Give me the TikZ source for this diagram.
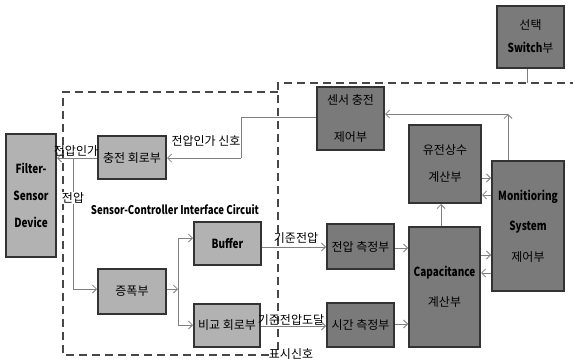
\documentclass[tikz,border=0pt]{standalone}
\usepackage{fontspec}
\setmainfont{Noto Sans CJK KR}
\newfontfamily\eng[FakeStretch=0.8]{Noto Sans CJK KR}
\newcommand\krf{\fontsize{12}{13}\selectfont}
\newcommand\enf{\eng\bfseries\fontsize{12.5}{13}\selectfont}
\usetikzlibrary{arrows.meta}
\begin{document}
\begin{tikzpicture}[x=1pt,y=-1pt,
  box/.style={draw=black!80, line width=2pt, inner sep=0pt, anchor=north west, align=center, text=black},
  lbox/.style={box, fill=black!30},
  dbox/.style={box, fill=black!52},
  conn/.style={draw=black!50, line width=0.8pt, -{Straight Barb[length=4pt,width=8pt]}},
  plain/.style={draw=black!50, line width=0.8pt},
  bnd/.style={draw=black!72, line width=2.4pt, dash pattern=on 8pt off 5pt},
  kr/.style={font=\krf},
  en/.style={font=\enf},
  lab/.style={kr, inner sep=0.5pt}
]
\useasboundingbox (0,0) rectangle (573,364);
% dashed boundaries
\draw[bnd] (278,92) -- (63,92) -- (63,355) -- (270,355);
\draw[bnd] (278,350) -- (278,83) -- (573,83);
% boxes
\node[lbox, minimum width=50pt, minimum height=123pt, en] (filt) at (5,133) {Filter-\\[14pt]Sensor\\[14pt]Device};
\node[lbox, minimum width=68pt, minimum height=43pt, kr] (chg) at (97,135) {충전 회로부};
\node[dbox, minimum width=67pt, minimum height=63pt, kr] (sens) at (316,86) {센서 충전\\[24pt]제어부};
\node[dbox, minimum width=72pt, minimum height=78pt, kr] (yuj) at (408,124) {유전상수\\[14pt]계산부};
\node[dbox, minimum width=72pt, minimum height=130pt] (mon) at (491,160) {{\enf Monitioring}\\[17pt]{\enf System}\\[17pt]{\krf 제어부}};
\node[dbox, minimum width=67pt, minimum height=62pt] (sel) at (496,5) {{\krf 선택}\\[11pt]{\enf Switch}{\krf 부}};
\node[lbox, minimum width=67pt, minimum height=43pt, en] (buf) at (193,221) {Buffer};
\node[lbox, minimum width=68pt, minimum height=45pt, kr] (amp) at (97,268) {증폭부};
\node[lbox, minimum width=66pt, minimum height=43pt, kr] (cmp) at (193,303) {비교 회로부};
\node[dbox, minimum width=67pt, minimum height=45pt, kr] (vm) at (326,223) {전압 측정부};
\node[dbox, minimum width=67pt, minimum height=44pt, kr] (tm) at (326,302) {시간 측정부};
\node[dbox, minimum width=71pt, minimum height=120pt] (cap) at (408,226) {{\enf Capacitance}\\[17pt]{\krf 계산부}};
\node[font=\eng\bfseries\fontsize{12}{13}\selectfont] (title) at (175,210) {Sensor-Controller Interface Circuit};
% junction coordinates
\coordinate (j1) at (241,117);
\coordinate (j2) at (241,158);
\coordinate (v1) at (73,158);
\coordinate (v2) at (73,289);
\coordinate (b0) at (178,289);
\coordinate (b1) at (178,238);
\coordinate (b2) at (178,325);
\coordinate (m1) at (508,114);
\coordinate (s1) at (527,83);
% connectors
\draw[plain] (sens.west |- j1) -- (j1) -- (j2);
\draw[conn] (j2) -- (chg.east |- j2);
\draw[conn] (chg.west |- j2) -- (filt.east |- j2);
\draw[plain] (v1) -- (v2);
\draw[conn] (v2) -- (amp.west |- v2);
\draw[conn] (amp.east |- b0) -- (b0);
\draw[plain] (b1) -- (b2);
\draw[conn] (b1) -- (buf.west |- b1);
\draw[conn] (b2) -- (cmp.west |- b2);
\draw[conn] (buf.east |- 0,247) -- (vm.west |- 0,247);
\draw[conn] (cmp.east |- 0,326) -- (tm.west |- 0,326);
\draw[conn] (vm.east |- 0,248) -- (cap.west |- 0,248);
\draw[conn] (tm.east |- 0,324) -- (cap.west |- 0,324);
\draw[conn] (cap.north -| 441,0) -- (yuj.south -| 441,0);
\draw[conn] (yuj.east |- 0,178) -- (mon.west |- 0,178);
\draw[conn] (mon.west |- 0,195) -- (yuj.east |- 0,195);
\draw[conn] (cap.east |- 0,255) -- (mon.west |- 0,255);
\draw[conn] (mon.west |- 0,273) -- (cap.east |- 0,273);
\draw[conn] (mon.north -| m1) -- (m1);
\draw[conn] (m1) -- (sens.east |- m1);
\draw[plain] (sel.south -| s1) -- (s1);
% labels
\node[lab] (l1) at (206,141) {전압인가 신호};
\node[lab] (l2) at (76,151) {전압인가};
\node[lab, fill=white] (l3) at (73,198) {전압};
\node[lab] (l4) at (296,238) {기준전압};
\node[lab] (l5) at (291,320) {기준전압도달};
\node[lab] (l6) at (291,354) {표시신호};
\end{tikzpicture}
\end{document}
